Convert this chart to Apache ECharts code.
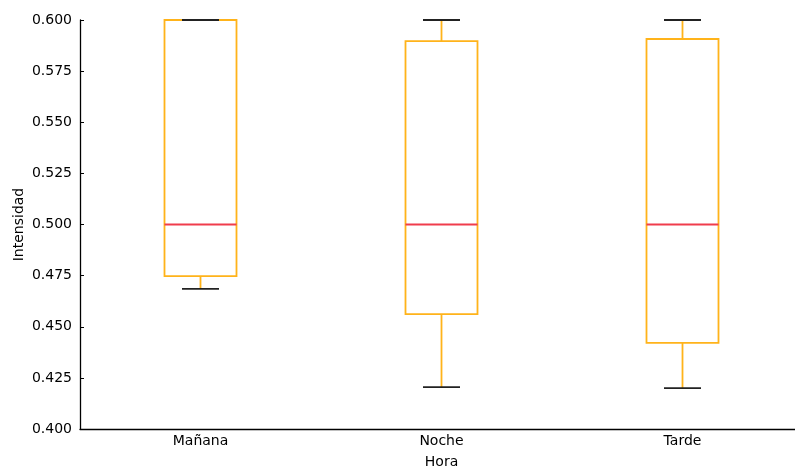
<!DOCTYPE html>
<html><head><meta charset="utf-8">
<script src="https://cdn.jsdelivr.net/npm/echarts@6/dist/echarts.min.js"></script>
<style>html,body{margin:0;padding:0;background:#fff}#c{width:795px;height:466px}</style>
</head><body><div id="c"></div>
<script>
const categories = ['Mañana', 'Noche', 'Tarde'];
const whiskerLow = [0.4685, 0.4205, 0.4200];
const q1 = [0.4748, 0.4562, 0.4421];
const median = [0.500, 0.500, 0.500];
const q3 = [0.600, 0.5897, 0.5907];
const whiskerHigh = [0.600, 0.600, 0.600];
const yTicks = [0.400, 0.425, 0.450, 0.475, 0.500, 0.525, 0.550, 0.575, 0.600];

const data = categories.map((c, i) => [i, whiskerLow[i], q1[i], median[i], q3[i], whiskerHigh[i]]);
const ORANGE = '#FFB31A', RED = '#F03C4C', BLACK = '#222';
const font = 'DejaVu Sans';

function renderItem(params, api) {
  const x = api.value(0);
  const pMin = api.coord([x, api.value(1)]);
  const pQ1 = api.coord([x, api.value(2)]);
  const pMed = api.coord([x, api.value(3)]);
  const pQ3 = api.coord([x, api.value(4)]);
  const pMax = api.coord([x, api.value(5)]);
  const cx = pMed[0];
  const bw = 72, cw = 37;
  const lw = 1.8;
  return {
    type: 'group',
    children: [
      {type: 'line', shape: {x1: cx, y1: pQ3[1], x2: cx, y2: pMax[1]}, style: {stroke: ORANGE, lineWidth: lw}},
      {type: 'line', shape: {x1: cx, y1: pQ1[1], x2: cx, y2: pMin[1]}, style: {stroke: ORANGE, lineWidth: lw}},
      {type: 'rect', shape: {x: cx - bw / 2, y: pQ3[1], width: bw, height: pQ1[1] - pQ3[1]}, style: {stroke: ORANGE, fill: null, lineWidth: lw}},
      {type: 'line', shape: {x1: cx - bw / 2, y1: pMed[1], x2: cx + bw / 2, y2: pMed[1]}, style: {stroke: RED, lineWidth: lw}},
      {type: 'line', shape: {x1: cx - cw / 2, y1: pMax[1], x2: cx + cw / 2, y2: pMax[1]}, style: {stroke: BLACK, lineWidth: lw}},
      {type: 'line', shape: {x1: cx - cw / 2, y1: pMin[1], x2: cx + cw / 2, y2: pMin[1]}, style: {stroke: BLACK, lineWidth: lw}}
    ]
  };
}

const chart = echarts.init(document.getElementById('c'), null, {renderer: 'canvas'});
chart.setOption({
  animation: false,
  backgroundColor: '#fff',
  grid: {left: 80, top: 20, width: 723, height: 409, containLabel: false, outerBoundsMode: 'none'},
  xAxis: {
    type: 'category', data: categories, boundaryGap: true,
    name: 'Hora', nameLocation: 'middle', nameGap: 26, nameMoveOverlap: false,
    nameTextStyle: {fontFamily: font, fontSize: 14, color: '#000'},
    axisLine: {lineStyle: {color: '#000', width: 1.3}},
    axisTick: {inside: true, alignWithLabel: true, length: 4, lineStyle: {color: '#000'}},
    axisLabel: {fontFamily: font, fontSize: 14, color: '#000', margin: 5},
    splitLine: {show: false}
  },
  yAxis: {
    type: 'value', min: 0.4, max: 0.6, interval: 0.025,
    name: 'Intensidad', nameLocation: 'middle', nameGap: 54, nameRotate: 90, nameMoveOverlap: false,
    nameTextStyle: {fontFamily: font, fontSize: 14, color: '#000'},
    axisLine: {show: true, lineStyle: {color: '#000', width: 1.3}},
    axisTick: {show: true, inside: true, length: 4, lineStyle: {color: '#000'}},
    axisLabel: {fontFamily: font, fontSize: 14, color: '#000', margin: 8,
      formatter: v => { const t = yTicks.find(k => Math.abs(k - v) < 1e-6); return (t !== undefined ? t : v).toFixed(3); }},
    splitLine: {show: false}
  },
  series: [{
    type: 'custom', renderItem: renderItem, data: data, clip: false,
    encode: {x: 0, y: [1, 2, 3, 4, 5]}
  }]
});
</script></body></html>
